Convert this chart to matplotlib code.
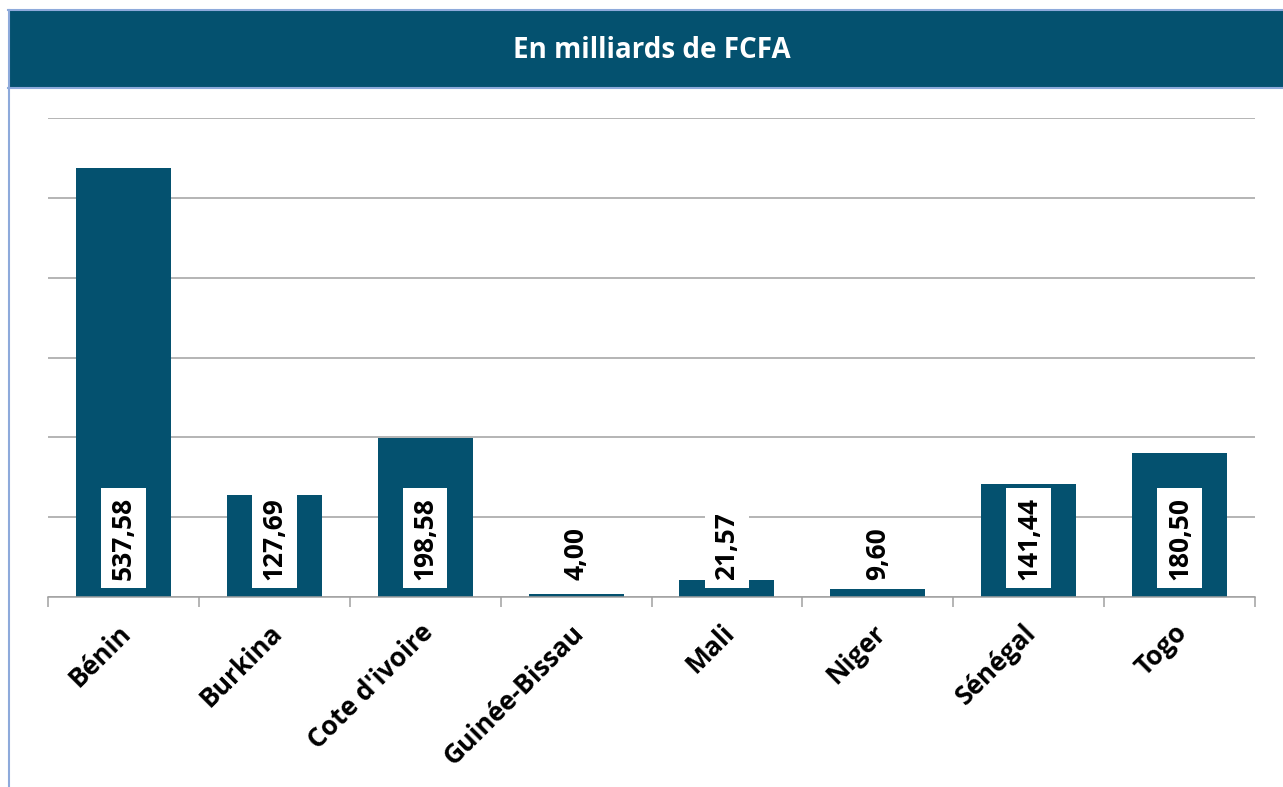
import matplotlib
matplotlib.use('Agg')
import matplotlib.pyplot as plt
from matplotlib.patches import Rectangle
from matplotlib.lines import Line2D
from matplotlib.transforms import ScaledTranslation
import numpy as np

plt.rcParams['font.family'] = ['Open Sans', 'DejaVu Sans']

pays = ['Bénin', 'Burkina', "Cote d'ivoire", 'Guinée-Bissau', 'Mali', 'Niger', 'Sénégal', 'Togo']
montants = [537.58, 127.69, 198.58, 4.00, 21.57, 9.60, 141.44, 180.50]
titre = 'En milliards de FCFA'

bleu = '#04516F'
bord = '#8EAADB'
gris = '#A0A0A0'

W, H = 1283, 787
fig = plt.figure(figsize=(W / 100, H / 100), dpi=100)
fig.set_facecolor('white')

# bandeau du titre (bordure en haut, en bas et à gauche seulement)
fig.patches.append(Rectangle((8 / W, 1 - 88 / H), 1 - 8 / W, 78 / H,
                             transform=fig.transFigure, facecolor=bleu,
                             edgecolor='none'))
for yy in (1 - 10 / H, 1 - 88 / H):
    fig.lines.append(Line2D([8 / W, 1], [yy, yy], transform=fig.transFigure,
                            color=bord, linewidth=1.5))
fig.lines.append(Line2D([8.5 / W, 8.5 / W], [0, 1 - 10 / H],
                        transform=fig.transFigure, color=bord, linewidth=1.5))
fig.text(652 / W, 1 - 51 / H, titre, color='white', fontsize=20,
         fontweight='bold', ha='center', va='center')

ax = fig.add_axes([48 / W, 1 - 597 / H, 1207 / W, 479 / H])
x = np.arange(len(pays))
ax.bar(x, montants, width=0.63, color=bleu, zorder=2)

ax.set_xlim(-0.5, len(pays) - 0.5)
ax.set_ylim(0, 600)
ax.set_yticks(np.arange(0, 601, 100))
ax.yaxis.grid(True, color=gris, linewidth=1.1)
ax.set_axisbelow(True)
ax.tick_params(axis='y', left=False, labelleft=False)
for s in ['left', 'right', 'top']:
    ax.spines[s].set_visible(False)
ax.spines['bottom'].set_color(gris)
ax.spines['bottom'].set_linewidth(1.1)

# graduations entre les catégories, étiquettes au centre
ax.set_xticks(np.arange(-0.5, len(pays), 1))
ax.tick_params(axis='x', which='major', length=7, color=gris, width=1.1,
               labelbottom=False)
ax.set_xticks(x, minor=True)
ax.set_xticklabels(pays, minor=True, rotation=45, ha='right',
                   rotation_mode='anchor', fontsize=19, fontweight='bold')
ax.tick_params(axis='x', which='minor', length=0, pad=16)
decal = ScaledTranslation(-6 / 100, 0, fig.dpi_scale_trans)
for lab in ax.get_xticklabels(minor=True):
    lab.set_transform(lab.get_transform() + decal)

for i, v in enumerate(montants):
    ax.annotate(f'{v:.2f}'.replace('.', ','), xy=(i, 0), xytext=(0, 12.5),
                textcoords='offset points', rotation=90, ha='center',
                va='bottom', fontsize=19, fontweight='bold', color='black',
                bbox=dict(boxstyle='square,pad=0.33', facecolor='white',
                          edgecolor='none'), zorder=3)

fig.savefig('out.png', dpi=100)
